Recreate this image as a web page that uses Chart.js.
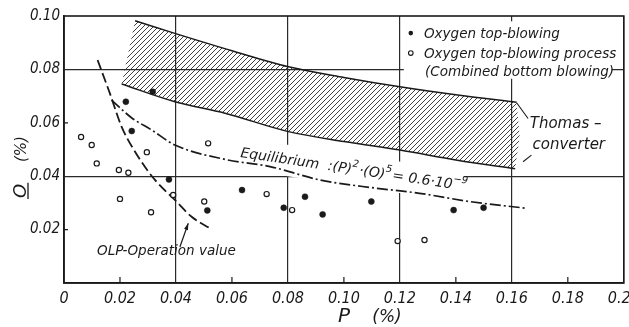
<!DOCTYPE html>
<html><head><meta charset="utf-8">
<script src="https://cdn.jsdelivr.net/npm/chart.js@4.4.1/dist/chart.umd.min.js"></script>
<style>html,body{margin:0;padding:0;background:#fff;}#wrap{width:629px;height:327px;}</style>
</head><body><div id="wrap"><canvas id="c" width="629" height="327"></canvas></div>
<script>
// ---- data (P %, O %) ----
const filledP = [0.0221,0.0242,0.0317,0.0375,0.0512,0.0636,0.0785,0.0861,0.0924,0.1098,0.1392,0.1499];
const filledO = [0.0679,0.0569,0.0716,0.0388,0.0272,0.0348,0.0282,0.0323,0.0257,0.0305,0.0273,0.0282];
const openP = [0.0061,0.0099,0.0117,0.0196,0.0230,0.0200,0.0296,0.0311,0.0390,0.0501,0.0515,0.0724,0.0815,0.1192,0.1288];
const openO = [0.0547,0.0517,0.0448,0.0423,0.0413,0.0315,0.0490,0.0265,0.0330,0.0305,0.0523,0.0333,0.0273,0.0157,0.0161];
const eqP = [0.017,0.024,0.0313,0.0396,0.0575,0.0736,0.0914,0.110,0.127,0.145,0.165];
const eqO = [0.0685,0.0620,0.0573,0.0517,0.0463,0.0436,0.0386,0.0357,0.0336,0.0305,0.0280];
const olpP = [0.0120,0.0164,0.0206,0.0265,0.0325,0.0396,0.0456,0.0521];
const olpO = [0.0835,0.0710,0.0585,0.0473,0.0386,0.0311,0.0248,0.0205];
const bandUpperP = [0.0254,0.0396,0.060,0.0802,0.100,0.120,0.140,0.1617];
const bandUpperO = [0.0982,0.0935,0.087,0.0810,0.077,0.0735,0.0705,0.0677];
const bandLowerP = [0.0206,0.0396,0.0575,0.0802,0.100,0.120,0.1405,0.1612];
const bandLowerO = [0.0745,0.0679,0.0636,0.0567,0.053,0.0498,0.046,0.0428];
const bandRightP = [0.1628];
const bandRightO = [0.0550];
const xTickStep = 0.02, yTickStep = 0.02;
const legendLabels = ['Oxygen top-blowing','Oxygen top-blowing process','(Combined bottom blowing)'];

const pts = (xs, ys) => xs.map((x, i) => ({x, y: ys[i]}));
const bandPoly = pts(bandUpperP, bandUpperO)
  .concat(pts(bandRightP, bandRightO))
  .concat(pts(bandLowerP, bandLowerO).reverse());
bandPoly.push({x: bandUpperP[0], y: bandUpperO[0]});

function hatch() {
  const s = 5, c = document.createElement('canvas');
  c.width = s; c.height = s;
  const g = c.getContext('2d');
  g.strokeStyle = '#2a2a2a'; g.lineWidth = 0.9;
  g.beginPath();
  g.moveTo(0, s); g.lineTo(s, 0);
  g.moveTo(-1, 1); g.lineTo(1, -1);
  g.moveTo(s - 1, s + 1); g.lineTo(s + 1, s - 1);
  g.stroke();
  return g.createPattern(c, 'repeat');
}

const NARROW = "'Liberation Sans Narrow','DejaVu Sans Condensed','Liberation Sans',sans-serif";
const HAND = "'DejaVu Sans',sans-serif";
const INK = '#1a1a1a';

const decor = {
  id: 'decor',
  beforeDatasetsDraw(chart) {
    const {ctx, scales: {x, y}} = chart;
    ctx.save();
    const ex = x.getPixelForValue(0.0629), ey = y.getPixelForValue(0.0472);
    ctx.translate(ex, ey); ctx.rotate(0.148);
    ctx.fillStyle = '#fff';
    ctx.fillRect(-4, -19, 228, 31);
    ctx.restore();
    ctx.save();
    ctx.fillStyle = '#fff';
    const lx0 = x.getPixelForValue(0.1214), lx1 = x.getPixelForValue(0.1957);
    const ly0 = y.getPixelForValue(0.098), ly1 = y.getPixelForValue(0.0765);
    ctx.fillRect(lx0, ly0, lx1 - lx0, ly1 - ly0);
    ctx.restore();
  },
  afterDatasetsDraw(chart) {
    const {ctx, chartArea: a, scales: {x, y}} = chart;
    const X = v => x.getPixelForValue(v), Y = v => y.getPixelForValue(v);
    ctx.save();
    ctx.fillStyle = INK; ctx.strokeStyle = INK;
    ctx.lineWidth = 1.6;
    ctx.strokeRect(a.left, a.top, a.right - a.left, a.bottom - a.top);
    ctx.lineWidth = 1.2;
    ctx.beginPath();
    for (let v = 0.02; v < 0.2; v += 0.04) { ctx.moveTo(X(v), a.bottom); ctx.lineTo(X(v), a.bottom - 6); }
    for (let v = 0.02; v < 0.1; v += 0.04) { ctx.moveTo(a.left, Y(v)); ctx.lineTo(a.left + 4, Y(v)); }
    ctx.stroke();

    ctx.save();
    ctx.translate(X(0.0629), Y(0.0472)); ctx.rotate(0.148);
    const big = 'italic 14px ' + HAND, small = 'italic 10px ' + HAND;
    const parts = [['Equilibrium  :(P)', 0], ['2', 1], ['·(O)', 0], ['5', 1], ['= 0.6·10', 0], ['−9', 1]];
    let cx = 0;
    ctx.textBaseline = 'alphabetic'; ctx.textAlign = 'left';
    for (const [t, sup] of parts) {
      ctx.font = sup ? small : big;
      ctx.fillText(t, cx, sup ? -7 : 0);
      cx += ctx.measureText(t).width + (sup ? 1 : 0);
    }
    ctx.restore();

    ctx.font = 'italic 13.5px ' + HAND;
    ctx.textAlign = 'left'; ctx.textBaseline = 'alphabetic';
    ctx.fillText('OLP-Operation value', X(0.0118), Y(0.0105));
    const ax0 = X(0.0414), ay0 = Y(0.0135), ax1 = X(0.0444), ay1 = Y(0.0224);
    ctx.lineWidth = 1.2;
    ctx.beginPath(); ctx.moveTo(ax0, ay0); ctx.lineTo(ax1, ay1); ctx.stroke();
    const ang = Math.atan2(ay1 - ay0, ax1 - ax0);
    ctx.beginPath();
    ctx.moveTo(ax1, ay1);
    ctx.lineTo(ax1 - 7 * Math.cos(ang - 0.3), ay1 - 7 * Math.sin(ang - 0.3));
    ctx.lineTo(ax1 - 7 * Math.cos(ang + 0.3), ay1 - 7 * Math.sin(ang + 0.3));
    ctx.closePath(); ctx.fill();

    ctx.font = 'italic 15px ' + HAND;
    ctx.fillText('Thomas –', X(0.1664), Y(0.0580));
    ctx.fillText('converter', X(0.1674), Y(0.0502));
    ctx.lineWidth = 1.1;
    ctx.beginPath();
    ctx.moveTo(X(0.1617), Y(0.0675)); ctx.lineTo(X(0.1658), Y(0.0616));
    ctx.moveTo(X(0.1670), Y(0.0479)); ctx.lineTo(X(0.1640), Y(0.0454));
    ctx.stroke();

    ctx.font = 'italic 13.5px ' + HAND;
    const mx = X(0.1239);
    ctx.beginPath(); ctx.arc(mx, Y(0.0936), 2.3, 0, Math.PI * 2); ctx.fill();
    ctx.beginPath(); ctx.arc(mx, Y(0.0861), 2.3, 0, Math.PI * 2);
    ctx.fillStyle = '#fff'; ctx.fill(); ctx.lineWidth = 1.1; ctx.stroke();
    ctx.fillStyle = INK;
    ctx.fillText(legendLabels[0], X(0.1286), Y(0.0917));
    ctx.fillText(legendLabels[1], X(0.1286), Y(0.0843));
    ctx.fillText(legendLabels[2], X(0.1290), Y(0.0775));
    ctx.restore();
  },
  afterDraw(chart) {
    const {ctx} = chart;
    ctx.save();
    ctx.fillStyle = INK; ctx.strokeStyle = INK;
    ctx.textBaseline = 'alphabetic'; ctx.textAlign = 'center';
    ctx.font = 'italic 20px ' + HAND;
    ctx.fillText('P', 344, 322);
    ctx.font = 'italic 17px ' + HAND;
    ctx.fillText('(%)', 387, 322);
    ctx.translate(26, 198); ctx.rotate(-Math.PI / 2);
    ctx.textAlign = 'left';
    ctx.font = 'italic 18px ' + HAND;
    ctx.fillText('O', 0, 0);
    const w = ctx.measureText('O').width;
    ctx.lineWidth = 1.3;
    ctx.beginPath(); ctx.moveTo(-1, 2); ctx.lineTo(w + 1, 2); ctx.stroke();
    ctx.font = 'italic 15px ' + HAND;
    ctx.fillText('(%)', 36, 0);
    ctx.restore();
  }
};

const gridColor = (ctx) => {
  const v = Math.round(ctx.tick.value * 100);
  return (v > 0 && v % 4 === 0) ? '#2a2a2a' : 'rgba(0,0,0,0)';
};

new Chart(document.getElementById('c'), {
  type: 'scatter',
  data: {
    datasets: [
      { data: pts(filledP, filledO), pointRadius: 3, pointBackgroundColor: INK, pointBorderColor: INK, pointBorderWidth: 0.5, showLine: false },
      { data: pts(openP, openO), pointRadius: 2.6, pointBackgroundColor: '#fff', pointBorderColor: INK, pointBorderWidth: 1.2, showLine: false },
      { data: pts(eqP, eqO), showLine: true, pointRadius: 0, borderColor: INK, borderWidth: 1.7, borderDash: [11, 3, 2, 3], tension: 0.4, cubicInterpolationMode: 'monotone' },
      { data: pts(olpP, olpO), showLine: true, pointRadius: 0, borderColor: INK, borderWidth: 1.8, borderDash: [10, 4], tension: 0.4, cubicInterpolationMode: 'monotone' },
      { data: pts(bandUpperP, bandUpperO), showLine: true, pointRadius: 0, borderColor: INK, borderWidth: 1.5, tension: 0.4, cubicInterpolationMode: 'monotone' },
      { data: pts(bandLowerP, bandLowerO), showLine: true, pointRadius: 0, borderColor: INK, borderWidth: 1.5, tension: 0.4, cubicInterpolationMode: 'monotone' },
      { data: bandPoly, showLine: true, pointRadius: 0, borderWidth: 0, borderColor: 'rgba(0,0,0,0)', backgroundColor: hatch(), fill: 'shape', tension: 0 }
    ]
  },
  options: {
    responsive: false, animation: false, devicePixelRatio: 1,
    layout: { padding: { top: 16, right: 5, left: 0, bottom: 0 } },
    plugins: { legend: { display: false }, tooltip: { enabled: false } },
    scales: {
      x: {
        type: 'linear', min: 0, max: 0.20,
        afterFit: s => { s.height = 44; s.paddingRight = 0; s.paddingLeft = 0; },
        border: { display: true, color: INK, width: 1.6 },
        grid: { color: gridColor, lineWidth: 1.2, drawTicks: false },
        ticks: { stepSize: xTickStep, padding: 6, color: INK, maxRotation: 0, autoSkip: false,
          font: { family: NARROW, size: 16, style: 'italic' },
          callback: v => (Math.abs(v) < 1e-9 ? '0' : v.toFixed(2)) }
      },
      y: {
        type: 'linear', min: 0, max: 0.10,
        afterFit: s => { s.width = 64; s.paddingTop = 0; s.paddingBottom = 0; },
        border: { display: true, color: INK, width: 1.6 },
        grid: { color: gridColor, lineWidth: 1.2, drawTicks: false },
        ticks: { stepSize: yTickStep, padding: 4, color: INK, autoSkip: false,
          font: { family: NARROW, size: 15, style: 'italic' },
          callback: v => (Math.abs(v) < 1e-9 ? '' : v.toFixed(2)) }
      }
    }
  },
  plugins: [decor]
});
</script></body></html>
